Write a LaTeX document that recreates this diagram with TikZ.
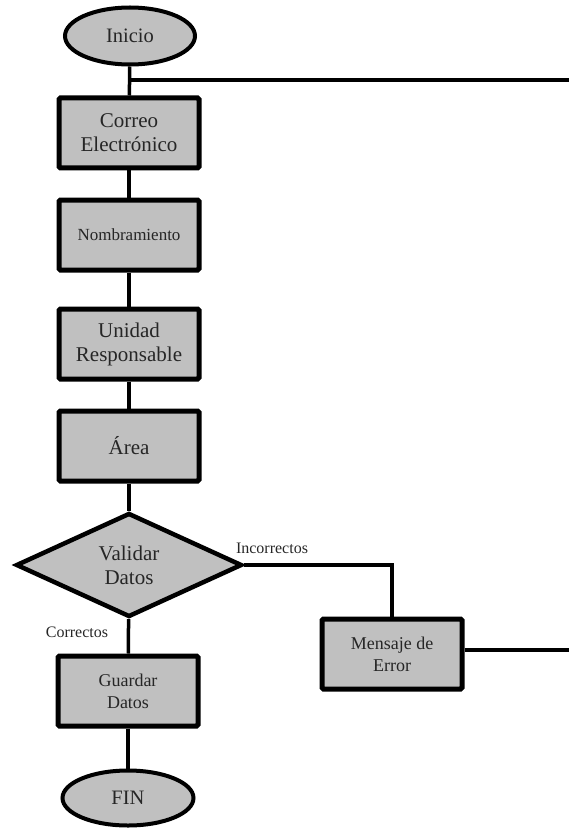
\documentclass[tikz,border=0pt]{standalone}
\usepackage{fontspec}
\setmainfont{Liberation Serif}
\usetikzlibrary{shapes.geometric}
\definecolor{boxgray}{HTML}{C0C0C0}

\begin{document}
\begin{tikzpicture}[x=1pt, y=-1pt,
    every node/.style={text=black!85},
    terminal/.style={ellipse, draw, fill=boxgray, line width=4pt, inner sep=0pt,
        minimum width=130pt, minimum height=57pt, font=\fontsize{20.5}{24}\selectfont},
    proceso/.style={rectangle, draw, fill=boxgray, line width=5pt, rounded corners=1.5pt,
        minimum width=140pt, minimum height=70pt, align=center, inner sep=0pt,
        font=\fontsize{21}{24}\selectfont},
    decision/.style={diamond, draw, fill=boxgray, line width=4.5pt, inner sep=0pt,
        minimum width=226pt, minimum height=104pt, align=center,
        font=\fontsize{21}{24}\selectfont},
    enlace/.style={line width=3.5pt},
    etiqueta/.style={font=\fontsize{16}{18}\selectfont}]
    % Page
    \useasboundingbox (0,0) rectangle (569,829);

    % Main column
    \node[terminal] (inicio) at (130,36) {Inicio};
    \node[proceso] (correo) at (129,133) {Correo\\Electrónico};
    \node[proceso, font=\fontsize{17}{20}\selectfont] (nombramiento) at (129,235) {Nombramiento};
    \node[proceso] (unidad) at (129,344) {Unidad\\Responsable};
    \node[proceso] (area) at (129,446) {Área};
    \node[decision] (validar) at (129,565) {Validar\\Datos};
    \node[proceso, font=\fontsize{18}{22}\selectfont] (guardar) at (128,691) {Guardar\\Datos};
    \node[terminal, minimum width=131pt, minimum height=55pt] (fin) at (128,798) {FIN};

    % Error branch
    \node[proceso, font=\fontsize{18}{22}\selectfont] (mensaje) at (392,654) {Mensaje de\\Error};

    % Labels
    \node[etiqueta] (incorrectos) at (272,548) {Incorrectos};
    \node[etiqueta] (correctos) at (77,632) {Correctos};

    % Connectors
    \coordinate (salida1) at (129,80);
    \coordinate (borde1) at (569,80);
    \coordinate (borde2) at (569,650);
    \draw[enlace] (inicio) -- (correo);
    \draw[enlace] (salida1) -- (borde1);
    \draw[enlace] (correo) -- (nombramiento);
    \draw[enlace] (nombramiento) -- (unidad);
    \draw[enlace] (unidad) -- (area);
    \draw[enlace] (area) -- (validar);
    \draw[enlace] (validar) -- (guardar);
    \draw[enlace] (guardar) -- (fin);
    \draw[enlace] (validar.east) -| (mensaje.north);
    \draw[enlace] (mensaje.east |- borde2) -- (borde2);
\end{tikzpicture}
\end{document}
